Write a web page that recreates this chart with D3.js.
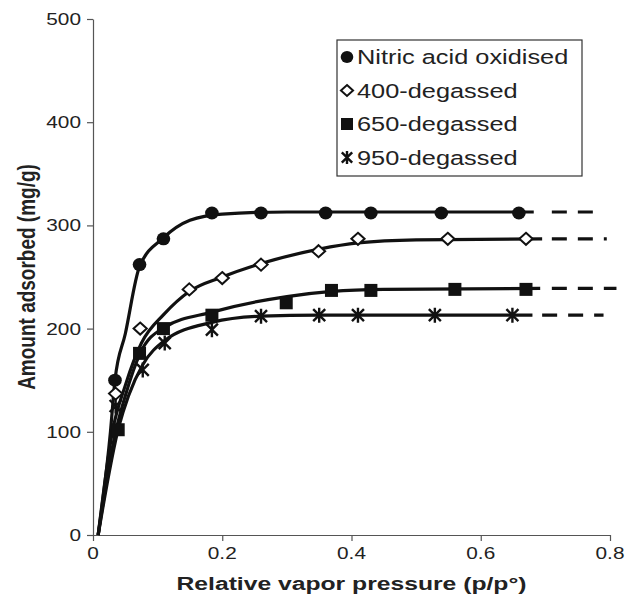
<!DOCTYPE html>
<html>
<head>
<meta charset="utf-8">
<script src="https://cdn.jsdelivr.net/npm/d3@7"></script>
<style>
  body { margin: 0; background: #fff; }
  text { font-family: "Liberation Sans", Arial, sans-serif; }
</style>
</head>
<body>
<svg id="chart"></svg>
<script>
// size of the picture
const width = 630;
const height = 602;
// the source picture is stretched sideways, text too
const stretch = 1.3;

// series names (legend order)
const seriesNames = ["Nitric acid oxidised", "400-degassed", "650-degassed", "950-degassed"];
const seriesShapes = ["circle", "diamond", "square", "star"];

// measured points
const nitricX = [0.034, 0.072, 0.109, 0.184, 0.26, 0.36, 0.43, 0.539, 0.659];
const nitricY = [150, 262, 287, 312, 312, 312, 312, 312, 312];
const d400X = [0.035, 0.073, 0.149, 0.2, 0.26, 0.349, 0.41, 0.549, 0.67];
const d400Y = [137, 200, 238, 249, 262, 275, 287, 287, 287];
const d650X = [0.039, 0.072, 0.109, 0.184, 0.299, 0.369, 0.43, 0.56, 0.67];
const d650Y = [102, 176, 200, 213, 225, 237, 237, 238, 238];
const d950X = [0.035, 0.077, 0.111, 0.184, 0.26, 0.35, 0.41, 0.529, 0.649];
const d950Y = [125, 160, 186, 199, 212, 213, 213, 213, 213];

// fitted trend curves
const nitricFitX = [0.008, 0.027, 0.034, 0.05, 0.072, 0.109, 0.15, 0.2, 0.3, 0.682];
const nitricFitY = [0, 100, 150, 195, 260, 288, 305, 311, 313, 313];
const d400FitX = [0.008, 0.03, 0.05, 0.075, 0.11, 0.149, 0.2, 0.26, 0.35, 0.41, 0.5, 0.695];
const d400FitY = [0, 100, 145, 186, 214, 236, 250, 263, 277, 283, 286, 287];
const d650FitX = [0.008, 0.035, 0.05, 0.073, 0.11, 0.184, 0.3, 0.37, 0.45, 0.692];
const d650FitY = [0, 100, 135, 176, 201, 216, 231, 236, 238, 239];
const d950FitX = [0.008, 0.04, 0.055, 0.077, 0.11, 0.184, 0.26, 0.35, 0.68];
const d950FitY = [0, 105, 135, 165, 188, 206, 212, 213, 213];

// dashed extrapolation after each curve
const extStart = [0.71, 0.71, 0.71, 0.695];
const extEnd = [0.79, 0.795, 0.81, 0.79];

// axis ticks
const xTicks = [0, 0.2, 0.4, 0.6, 0.8];
const yTicks = [0, 100, 200, 300, 400, 500];

const pointsX = [nitricX, d400X, d650X, d950X];
const pointsY = [nitricY, d400Y, d650Y, d950Y];
const fitX = [nitricFitX, d400FitX, d650FitX, d950FitX];
const fitY = [nitricFitY, d400FitY, d650FitY, d950FitY];

const margin = { left: 93, right: 20, top: 19, bottom: 67 };

const svg = d3.select("#chart")
  .attr("width", width)
  .attr("height", height);

const x = d3.scaleLinear().domain([0, 0.8]).range([margin.left, width - margin.right]);
const y = d3.scaleLinear().domain([0, 500]).range([height - margin.bottom, margin.top]);

// text helper: a group at (px,py), stretched sideways
function label(parent, px, py, str, size, anchor, bold, rot) {
  const g = parent.append("g")
    .attr("transform", "translate(" + px + "," + py + ") scale(" + stretch + ",1)" +
      (rot ? " rotate(" + rot + ")" : ""));
  g.append("text")
    .attr("text-anchor", anchor)
    .attr("font-size", size + "px")
    .attr("font-weight", bold ? "bold" : "normal")
    .attr("fill", "#222")
    .text(str);
  return g;
}

// axes
const xAxis = svg.append("g")
  .attr("transform", "translate(0," + y(0) + ")")
  .call(d3.axisBottom(x).tickValues(xTicks).tickSize(6).tickSizeOuter(0).tickFormat(""));
const yAxis = svg.append("g")
  .attr("transform", "translate(" + x(0) + ",0)")
  .call(d3.axisLeft(y).tickValues(yTicks).tickSize(6).tickSizeOuter(0).tickFormat(""));

[xAxis, yAxis].forEach(a => {
  a.select(".domain").attr("stroke", "#555").attr("stroke-width", 1.2);
  a.selectAll(".tick line").attr("stroke", "#555").attr("stroke-width", 1.2);
});

// tick labels
xTicks.forEach(t => {
  label(svg, x(t), y(0) + 24, t === 0 ? "0" : d3.format(".1f")(t), 16, "middle");
});
yTicks.forEach(t => {
  label(svg, x(0) - 12, y(t) + 6, String(t), 16, "end");
});

// axis titles
label(svg, (x(0) + x(0.8)) / 2, height - 12, "Relative vapor pressure (p/p°)", 19, "middle", true);
label(svg, 35, y(250), "Amount adsorbed (mg/g)", 19, "middle", true, -90);

// trend lines
const line = d3.line()
  .x(d => x(d[0]))
  .y(d => y(d[1]))
  .curve(d3.curveMonotoneX);

const curves = svg.append("g").attr("class", "curves");
fitX.forEach((xs, i) => {
  const pts = xs.map((v, j) => [v, fitY[i][j]]);
  curves.append("path")
    .attr("d", line(pts))
    .attr("fill", "none")
    .attr("stroke", "#111")
    .attr("stroke-width", 3.2);
  const last = fitY[i][fitY[i].length - 1];
  curves.append("line")
    .attr("x1", x(extStart[i]))
    .attr("x2", x(extEnd[i]))
    .attr("y1", y(last))
    .attr("y2", y(last))
    .attr("stroke", "#111")
    .attr("stroke-width", 3.2)
    .attr("stroke-dasharray", "15,11");
});

// markers
function drawMarker(g, shape, cx, cy, s) {
  if (shape === "circle") {
    g.append("ellipse").attr("cx", cx).attr("cy", cy).attr("rx", s * 1.05).attr("ry", s)
      .attr("fill", "#111");
  } else if (shape === "diamond") {
    const w = s * 1.1;
    g.append("path")
      .attr("d", "M" + cx + "," + (cy - s) + "L" + (cx + w) + "," + cy +
        "L" + cx + "," + (cy + s) + "L" + (cx - w) + "," + cy + "Z")
      .attr("fill", "#fff").attr("stroke", "#111").attr("stroke-width", 2);
  } else if (shape === "square") {
    g.append("rect").attr("x", cx - s).attr("y", cy - s)
      .attr("width", 2 * s).attr("height", 2 * s).attr("fill", "#111");
  } else {
    const k = s * 0.8;
    g.append("path")
      .attr("d", "M" + (cx - k) + "," + (cy - k) + "L" + (cx + k) + "," + (cy + k) +
        "M" + (cx + k) + "," + (cy - k) + "L" + (cx - k) + "," + (cy + k) +
        "M" + cx + "," + (cy - s) + "L" + cx + "," + (cy + s))
      .attr("fill", "none").attr("stroke", "#111").attr("stroke-width", 2.4);
  }
}

const markerSize = [6.5, 6, 6.5, 7.5];
const marks = svg.append("g").attr("class", "markers");
pointsX.forEach((xs, i) => {
  xs.forEach((v, j) => {
    drawMarker(marks, seriesShapes[i], x(v), y(pointsY[i][j]), markerSize[i]);
  });
});

// legend
const legend = svg.append("g").attr("transform", "translate(337,40)");
legend.append("rect")
  .attr("width", 245).attr("height", 136)
  .attr("fill", "#fff").attr("stroke", "#333").attr("stroke-width", 1.2);
const legendSize = [6, 5.5, 6, 6.5];
seriesNames.forEach((name, i) => {
  const ly = 17 + i * 33.5;
  drawMarker(legend, seriesShapes[i], 10, ly, legendSize[i]);
  label(legend, 20, ly + 7, name, 19.5, "start");
});
</script>
</body>
</html>
